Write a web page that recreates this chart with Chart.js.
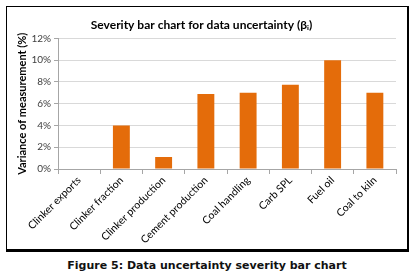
<!DOCTYPE html>
<html>
<head>
<meta charset="utf-8">
<script src="https://cdn.jsdelivr.net/npm/chart.js@4"></script>
<style>
  body { margin: 0; background: #fff; width: 414px; height: 279px; position: relative; overflow: hidden; }
  #box {
    position: absolute; left: 6px; top: 6px; width: 400px; height: 242px;
    border-left: 1px solid #000; border-top: 1px solid #000;
    border-right: 2px solid #000; border-bottom: 3px solid #000;
  }
  #box canvas { display: block; }
  #caption {
    position: absolute; left: 0; top: 259px; width: 414px; text-align: center;
    font-family: "DejaVu Sans", sans-serif; font-weight: bold; font-size: 11px; color: #111;
  }
</style>
</head>
<body>
<div id="box"><canvas id="c" width="400" height="242"></canvas></div>
<div id="caption">Figure 5: Data uncertainty severity bar chart</div>
<script>
const categories = ["Clinker exports", "Clinker fraction", "Clinker production", "Cement production",
                    "Coal handling", "Carb SPL", "Fuel oil", "Coal to kiln"];
const variance = [0, 4.0, 1.1, 6.9, 7.0, 7.75, 10.0, 7.0];
const yTicks = [0, 2, 4, 6, 8, 10, 12];

const ctx = document.getElementById("c").getContext("2d");
const chart = new Chart(ctx, {
  type: "bar",
  data: {
    labels: categories,
    datasets: [{
      data: variance,
      backgroundColor: "#e46c0a",
      borderWidth: 0,
      barPercentage: 0.4,
      categoryPercentage: 1
    }]
  },
  options: {
    responsive: false,
    animation: false,
    layout: { padding: { left: 0, right: 11, top: 0, bottom: 0 } },
    plugins: {
      legend: { display: false },
      tooltip: { enabled: false },
      title: {
        display: true,
        text: "Severity bar chart for data uncertainty (βᵢ)",
        color: "#000",
        font: { family: "Lato", size: 12, weight: "bold" },
        padding: { top: 11, bottom: 6 }
      }
    },
    scales: {
      x: {
        offset: true,
        grid: { offset: true, drawOnChartArea: false, drawTicks: true, tickLength: 5, color: "#a6a6a6" },
        border: { color: "#a6a6a6" },
        ticks: {
          color: "#000",
          font: { family: "Lato", size: 10.5 },
          maxRotation: 45, minRotation: 45,
          padding: 0
        },
        afterFit: s => { s.height = 80; }
      },
      y: {
        min: 0, max: 12,
        afterBuildTicks: s => { s.ticks = yTicks.map(v => ({ value: v })); },
        grid: { color: "#d9d9d9", tickLength: 4, tickColor: "#a6a6a6" },
        border: { color: "#a6a6a6" },
        ticks: {
          color: "#404040",
          font: { family: "Lato", size: 10 },
          padding: 3,
          callback: v => v + "%"
        },
        title: {
          display: true,
          text: "Variance of measurement (%)",
          color: "#000",
          font: { family: "Lato", size: 11, weight: "bold" },
          padding: { top: 9, bottom: 0 }
        },
        afterFit: s => { s.width = 51; }
      }
    }
  }
});
</script>
</body>
</html>
